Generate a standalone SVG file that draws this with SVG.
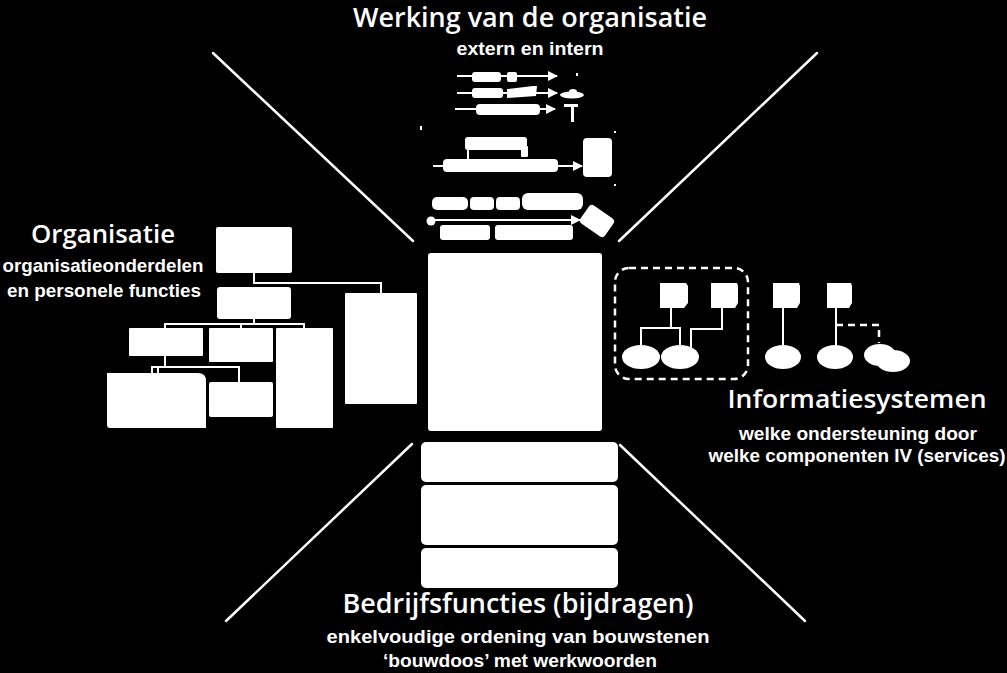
<svg xmlns="http://www.w3.org/2000/svg" width="1007" height="673" viewBox="0 0 1007 673">
<defs>
<style>
.t{font-family:"Open Sans","Liberation Sans",sans-serif;fill:#fff;text-anchor:middle;font-weight:600}
.s{font-family:"Liberation Sans","DejaVu Sans",sans-serif;fill:#fff;text-anchor:middle;font-weight:bold}
.ln{stroke:#fff;stroke-width:2;fill:none}
.dg{stroke:#fff;stroke-width:2.5;fill:none;stroke-linecap:round}
.w{fill:#fff}
.ds{stroke:#fff;stroke-width:2.5;fill:none;stroke-dasharray:7 5}
</style>
<marker id="ah" viewBox="0 0 10 10" refX="9" refY="5" markerWidth="5" markerHeight="5" orient="auto" markerUnits="strokeWidth">
<path d="M0,0 L10,5 L0,10 Z" fill="#fff"/>
</marker>
</defs>
<rect width="1007" height="673" fill="#000"/>

<g id="connectors">
<line class="dg" x1="213" y1="53" x2="413" y2="241"/>
<line class="dg" x1="817" y1="53" x2="619" y2="241"/>
<line class="dg" x1="412" y1="444" x2="226" y2="621"/>
<line class="dg" x1="620" y1="445" x2="805" y2="621"/>
</g>

<g id="werking">
<text class="t" x="530" y="27" font-size="27" textLength="354" lengthAdjust="spacingAndGlyphs">Werking van de organisatie</text>
<text class="s" x="530" y="55" font-size="18" textLength="147" lengthAdjust="spacingAndGlyphs">extern en intern</text>
<g id="werking-flow">
<line class="ln" x1="457" y1="76" x2="557" y2="76" marker-end="url(#ah)"/>
<rect class="w" x="472" y="72" width="29" height="10" rx="3"/>
<rect class="w" x="507" y="72" width="10" height="10" rx="2"/>
<rect class="w" x="576" y="73" width="2" height="3"/>
<line class="ln" x1="457" y1="93" x2="557" y2="93" marker-end="url(#ah)"/>
<rect class="w" x="472" y="88" width="31" height="10" rx="3"/>
<path class="w" d="M507,89 L533,86 L537,86 L536,96 L507,98 Z"/>
<ellipse class="w" cx="572" cy="95" rx="12" ry="3.5"/>
<ellipse class="w" cx="573" cy="91.5" rx="4" ry="2.5"/>
<line class="ln" x1="455" y1="109" x2="555" y2="109" marker-end="url(#ah)"/>
<rect class="w" x="476" y="104" width="64" height="11" rx="4"/>
<path class="w" d="M564,104 H578 V107 H574 V122 H571 V107 H564 Z"/>
<rect class="w" x="420" y="126" width="2" height="4"/>
<rect class="w" x="465" y="137" width="62" height="13" rx="3"/>
<rect class="w" x="521" y="146" width="7" height="11" rx="1"/>
<line class="ln" x1="468" y1="150" x2="468" y2="166"/>
<line class="ln" x1="433" y1="166" x2="582" y2="166" marker-end="url(#ah)"/>
<rect class="w" x="443" y="159" width="115" height="13" rx="4"/>
<rect class="w" x="583" y="138" width="29" height="39" rx="4"/>
<rect class="w" x="614" y="131" width="2" height="2"/>
<rect class="w" x="614" y="184" width="2" height="2"/>
<rect class="w" x="432" y="197" width="36" height="13" rx="5"/>
<rect class="w" x="470" y="197" width="24" height="13" rx="4"/>
<rect class="w" x="496" y="197" width="24" height="13" rx="4"/>
<rect class="w" x="522" y="193" width="61" height="17" rx="6"/>
<circle class="w" cx="431" cy="221" r="4.5"/>
<line class="ln" x1="431" y1="220" x2="580" y2="220" marker-end="url(#ah)"/>
<rect class="w" x="440" y="225" width="50" height="15" rx="3"/>
<rect class="w" x="495" y="225" width="78" height="15" rx="3"/>
<rect class="w" x="582" y="210" width="30" height="22" rx="4" transform="rotate(35 597 221)"/>
</g>
</g>

<g id="central">
<rect class="w" x="428" y="253" width="174" height="178" rx="3"/>
</g>

<g id="bedrijfsfuncties">
<rect class="w" x="421" y="442" width="197" height="40" rx="5"/>
<rect class="w" x="421" y="485" width="197" height="60" rx="5"/>
<rect class="w" x="421" y="548" width="197" height="40" rx="5"/>
<text class="t" x="518" y="613" font-size="27" textLength="351" lengthAdjust="spacingAndGlyphs">Bedrijfsfuncties (bijdragen)</text>
<text class="s" x="518" y="643" font-size="19" textLength="383" lengthAdjust="spacingAndGlyphs">enkelvoudige ordening van bouwstenen</text>
<text class="s" x="520" y="667" font-size="19" textLength="274" lengthAdjust="spacingAndGlyphs">‘bouwdoos’ met werkwoorden</text>
</g>

<g id="organisatie">
<text class="t" x="103" y="243" font-size="26" textLength="144" lengthAdjust="spacingAndGlyphs">Organisatie</text>
<text class="s" x="103" y="272" font-size="19" textLength="201" lengthAdjust="spacingAndGlyphs">organisatieonderdelen</text>
<text class="s" x="104" y="297" font-size="19" textLength="194" lengthAdjust="spacingAndGlyphs">en personele functies</text>
<g id="orgchart">
<polyline class="ln" points="254,273 254,283 381,283 381,293"/>
<polyline class="ln" points="254,319 254,324"/>
<polyline class="ln" points="165,329 165,324 304,324 304,329"/>
<line class="ln" x1="241" y1="324" x2="241" y2="329"/>
<polyline class="ln" points="165,356 165,367 239,367 239,382"/>
<polyline class="ln" points="152,373 152,367 165,367"/>
<line class="ln" x1="158" y1="367" x2="158" y2="373"/>
<rect class="w" x="216" y="227" width="76" height="46" rx="2"/>
<rect class="w" x="217" y="287" width="74" height="32" rx="3"/>
<rect class="w" x="345" y="293" width="72" height="111" rx="1"/>
<rect class="w" x="129" y="328" width="74" height="28" rx="1"/>
<rect class="w" x="209" y="328" width="64" height="34" rx="1"/>
<rect class="w" x="276" y="328" width="57" height="100" rx="1"/>
<path class="w" d="M107,373 H198 Q206,373 206,381 V428 H110 Q107,428 107,425 Z"/>
<rect class="w" x="209" y="382" width="64" height="35" rx="2"/>
</g>
</g>

<g id="informatiesystemen">
<rect class="ds" x="615" y="268" width="133" height="111" rx="14"/>
<g id="is-links">
<polyline class="ln" points="671,308 671,328"/>
<polyline class="ln" points="641,347 641,328 680,328 680,347"/>
<polyline class="ln" points="722,308 722,329 691,329 691,348"/>
<line class="ln" x1="783" y1="308" x2="783" y2="346"/>
<line class="ln" x1="836" y1="308" x2="836" y2="346"/>
<polyline class="ds" points="836,325 879,325 879,343"/>
</g>
<path class="w" d="M660,283 H686 L688,286 V303 L684,308 H660 Z"/>
<path class="w" d="M711,283 H737 L738,286 V303 L735,308 H711 Z"/>
<path class="w" d="M773,283 H799 L800,286 V303 L797,308 H773 Z"/>
<path class="w" d="M827,283 H851 L852,286 V303 L849,308 H827 Z"/>
<ellipse class="w" cx="641" cy="357" rx="19" ry="12"/>
<ellipse class="w" cx="680" cy="357" rx="19" ry="12"/>
<ellipse class="w" cx="783" cy="357" rx="18" ry="12"/>
<ellipse class="w" cx="835" cy="357" rx="18" ry="12"/>
<ellipse class="w" cx="880" cy="355" rx="16" ry="11"/>
<ellipse class="w" cx="893" cy="361" rx="17" ry="11"/>
<text class="t" x="857" y="408" font-size="25" textLength="259" lengthAdjust="spacingAndGlyphs">Informatiesystemen</text>
<text class="s" x="858" y="440" font-size="18" textLength="238" lengthAdjust="spacingAndGlyphs">welke ondersteuning door</text>
<text class="s" x="857" y="462" font-size="18" textLength="297" lengthAdjust="spacingAndGlyphs">welke componenten IV (services)</text>
</g>
</svg>
